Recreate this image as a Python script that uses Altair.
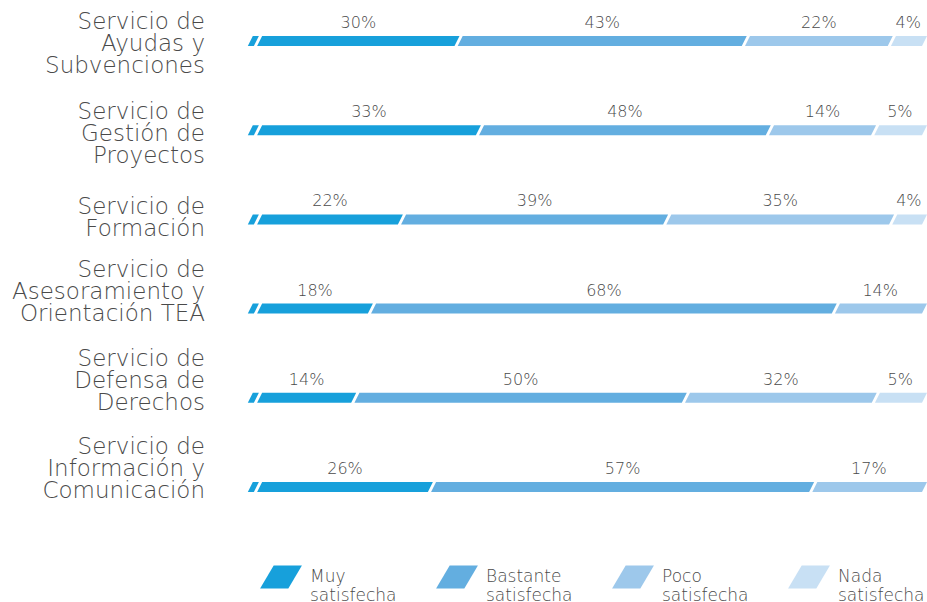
import altair as alt
import pandas as pd

services = [
    "Servicio de\nAyudas y\nSubvenciones",
    "Servicio de\nGestión de\nProyectos",
    "Servicio de\nFormación",
    "Servicio de\nAsesoramiento y\nOrientación TEA",
    "Servicio de\nDefensa de\nDerechos",
    "Servicio de\nInformación y\nComunicación",
]
categories = ["Muy satisfecha", "Bastante satisfecha", "Poco satisfecha", "Nada satisfecha"]
colors = ["#17a0db", "#63aee0", "#9dc8eb", "#c8e0f4"]

# percentages printed above each segment
muy = [30, 33, 22, 18, 14, 26]
bastante = [43, 48, 39, 68, 50, 57]
poco = [22, 14, 35, 14, 32, 17]
nada = [4, 5, 4, 0, 5, 0]

# segment lengths as drawn in the picture (percent of bar width)
muy_len = [30.1, 33.3, 21.6, 17.1, 14.6, 26.1]
bastante_len = [43.1, 43.5, 39.8, 69.6, 49.6, 57.2]
poco_len = [21.9, 15.8, 33.9, 13.3, 28.5, 16.7]
nada_len = [4.9, 7.4, 4.7, 0, 7.3, 0]

# layout constants
PX_PER_PCT = (924.5 - 258) / 100.0
ROW_PX = (487 - 41) / 5.0
HALF_H = 5 / ROW_PX
SLANT = 2.5 / PX_PER_PCT
GAP = 1.6 / PX_PER_PCT
LEAD = 1.15
first_line_px = [-19, -18, -12, -39, -39, -40]

xscale = alt.Scale(domain=[0, 100], range=[258, 924.5])
yscale = alt.Scale(domain=[0, 5], range=[41, 487])

poly = []
labels = []
for i in range(len(services)):
    vals = [muy[i], bastante[i], poco[i], nada[i]]
    lens = [muy_len[i], bastante_len[i], poco_len[i], nada_len[i]]
    segs = [("lead", categories[0], -LEAD, 0.0, False, True)]
    cum = 0.0
    nz = [k for k in range(4) if lens[k] > 0]
    for k in nz:
        segs.append((f"s{k}", categories[k], cum, cum + lens[k], True, k != nz[-1]))
        if vals[k] > 0:
            labels.append({"row": i, "xm": cum + lens[k] / 2, "txt": f"{vals[k]}%"})
        cum += lens[k]
    bot, top = i + HALF_H, i - HALF_H
    for sid, cat, a, b, gl, gr in segs:
        a2 = a + (GAP if gl else 0)
        b2 = b - (GAP if gr else 0)
        key = f"{i}-{sid}"
        for x, y, y2 in [(a2 - SLANT, bot, bot), (a2 + SLANT, bot, top),
                         (b2 - SLANT, bot, top), (b2 + SLANT, top, top)]:
            poly.append({"seg": key, "cat": cat, "x": x, "y": y, "y2": y2})

poly_df = pd.DataFrame(poly)
lab_df = pd.DataFrame(labels)
cat_df = pd.DataFrame({
    "txt": services,
    "ly": [i + first_line_px[i] / ROW_PX for i in range(len(services))],
})

legend_path = "M-1,0.55 L-0.35,-0.55 L1,-0.55 L0.35,0.55 Z"
FONT = "DejaVu Sans"
TEXT_COLOR = "#4a4a4a"

bars = alt.Chart(poly_df).mark_area(opacity=1, interpolate="linear").encode(
    x=alt.X("x:Q", scale=xscale, axis=None),
    y=alt.Y("y:Q", scale=yscale, axis=None, stack=None),
    y2="y2:Q",
    detail="seg:N",
    color=alt.Color(
        "cat:N",
        scale=alt.Scale(domain=categories, range=colors),
        legend=alt.Legend(
            orient="none",
            legendX=260,
            legendY=556,
            direction="horizontal",
            title=None,
            symbolType=legend_path,
            symbolSize=1750,
            symbolStrokeWidth=0,
            symbolOpacity=1,
            labelExpr="split(datum.label, ' ')",
            labelFont=FONT,
            labelFontSize=17,
            labelFontWeight=200,
            labelColor=TEXT_COLOR,
            labelOffset=8,
            columnPadding=39,
        ),
    ),
)

pct = alt.Chart(lab_df).mark_text(
    font=FONT, fontSize=16, fontWeight=200, color=TEXT_COLOR, dy=-18,
    baseline="middle", align="center"
).encode(
    x=alt.X("xm:Q", scale=xscale, axis=None),
    y=alt.Y("row:Q", scale=yscale, axis=None),
    text="txt:N",
)

cats = alt.Chart(cat_df).mark_text(
    font=FONT, fontSize=23, fontWeight=200, color=TEXT_COLOR, align="right",
    baseline="middle", lineBreak="\n", lineHeight=22,
).encode(
    x=alt.value(205),
    y=alt.Y("ly:Q", scale=yscale, axis=None),
    text="txt:N",
)

chart = alt.layer(bars, pct, cats).properties(
    width=927, height=602, padding=0, autosize="none", background="white"
).configure_view(stroke=None)

chart.save("out.html", embed_options={"renderer": "svg", "actions": False})
